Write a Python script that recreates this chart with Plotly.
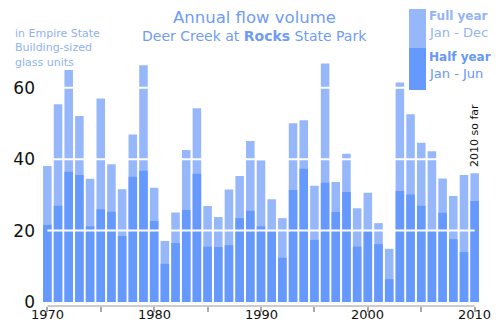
import plotly.graph_objects as go

# data (volume in "Empire State Building-sized glass units")
years = list(range(1970, 2011))
full_year = [38.1, 55.4, 65.0, 52.1, 34.5, 57.0, 38.6, 31.6, 46.9, 66.3, 32.0,
             17.1, 25.1, 42.6, 54.3, 26.9, 23.8, 31.5, 35.3, 45.1, 39.7,
             28.8, 23.5, 50.1, 50.9, 32.6, 66.8, 33.6, 41.5, 26.3, 30.6,
             22.1, 14.9, 61.5, 52.6, 44.6, 42.2, 34.6, 29.7, 35.6, 36.1]
half_year = [21.6, 27.0, 36.5, 35.6, 21.2, 26.0, 25.3, 18.5, 35.1, 36.8, 22.7,
             10.7, 16.5, 25.8, 35.9, 15.5, 15.4, 15.9, 23.5, 25.6, 21.2,
             19.8, 12.4, 31.4, 37.3, 17.4, 33.4, 25.2, 30.8, 15.5, 19.8,
             16.2, 6.4, 31.1, 30.1, 27.0, 19.9, 25.0, 17.6, 14.0, 28.3]
grid_values = [20, 40, 60]
y_ticks = [0, 20, 40, 60]
x_ticks = list(range(1970, 2011, 5))
x_labels = list(range(1970, 2011, 10))

LIGHT = "#97b7fb"
DARK = "#6699fd"
TITLE_C = "#6f9cf5"
FONT = "DejaVu Sans"

# the page body adds an 8px margin all round, so the figure is 16px smaller
# than the 500x331 window and fills it exactly
OFF = 8
W, H = 500 - 2 * OFF, 331 - 2 * OFF
ML, MR, MT, MB = 34, 12, 47, 17


def px(x, y):
    # window pixel position -> paper coordinates
    return (x - OFF - ML) / (W - ML - MR), (H - MB - (y - OFF)) / (H - MT - MB)


fig = go.Figure()
fig.add_trace(go.Bar(x=years, y=full_year, marker=dict(color=LIGHT, line=dict(width=0)),
                     name="Full year"))
fig.add_trace(go.Bar(x=years, y=half_year, marker=dict(color=DARK, line=dict(width=0)),
                     name="Half year"))

shapes = []
# white grid lines on top of the bars
for g in grid_values:
    shapes.append(dict(type="line", xref="x", yref="y", x0=1970, x1=2010, y0=g, y1=g,
                       line=dict(color="white", width=2), layer="above"))
# axis line only from 1970 to 2010
shapes.append(dict(type="line", xref="x", yref="paper", x0=1970, x1=2010, y0=0, y1=0,
                   line=dict(color="#bbbbbb", width=1.5), layer="above"))
# legend swatches
x0, y0 = px(409, 9)
x1, y1 = px(426, 48)
shapes.append(dict(type="rect", xref="paper", yref="paper", x0=x0, x1=x1, y0=y1, y1=y0,
                   fillcolor=LIGHT, line=dict(width=0)))
x0, y0 = px(409, 48)
x1, y1 = px(426, 90)
shapes.append(dict(type="rect", xref="paper", yref="paper", x0=x0, x1=x1, y0=y1, y1=y0,
                   fillcolor=DARK, line=dict(width=0)))

annotations = []


def note(text, x, y, size, color, xanchor="left", yanchor="middle"):
    ax, ay = px(x, y)
    annotations.append(dict(text=text, x=ax, y=ay, xref="paper", yref="paper",
                            xanchor=xanchor, yanchor=yanchor, showarrow=False, align="left",
                            font=dict(family=FONT, size=size, color=color)))


note("Annual flow volume", 254, 17.8, 16.5, TITLE_C, xanchor="center")
note("Deer Creek at <b>Rocks</b> State Park", 254, 35.8, 14, TITLE_C, xanchor="center")
note("in Empire State<br>Building-sized<br>glass units", 13, 25, 11, "#8fb2f5", yanchor="top")
note("<b>Full year</b>", 427, 16, 12, "#93b4f6")
note("Jan - Dec", 427, 32, 13, "#93b4f6")
note("<b>Half year</b>", 427, 57, 12, "#6897f5")
note("Jan - Jun", 427, 73, 13, "#6897f5")

# decade labels under the axis
_, ly = px(0, 314)
for yr in x_labels:
    annotations.append(dict(text=str(yr), x=yr, y=ly, xref="x", yref="paper",
                            xanchor="center", yanchor="middle", showarrow=False,
                            font=dict(family=FONT, size=13, color="#111111")))

annotations.append(dict(text="2010 so far", x=2010, y=37.3, xref="x", yref="y",
                        xanchor="center", yanchor="bottom", textangle=-90, showarrow=False,
                        font=dict(family=FONT, size=11, color="#111111")))

fig.update_layout(
    width=W, height=H,
    margin=dict(l=ML, r=MR, t=MT, b=MB),
    paper_bgcolor="white", plot_bgcolor="white",
    barmode="overlay", bargap=0.2,
    showlegend=False,
    font=dict(family=FONT, color="#111111"),
    shapes=shapes,
    annotations=annotations,
    xaxis=dict(range=[1969.5, 2010.5], showgrid=False, zeroline=False, showline=False,
               automargin=False, tickmode="array", tickvals=x_ticks, showticklabels=False,
               ticks="outside", ticklen=5, tickwidth=1.5, tickcolor="#aaaaaa"),
    yaxis=dict(range=[-1.12, 69.2], showgrid=False, zeroline=False, showline=False,
               automargin=False, tickmode="array", tickvals=y_ticks, ticks="",
               ticklabelstandoff=6, tickfont=dict(size=17, color="#111111")),
)

fig.write_html("out.html")
